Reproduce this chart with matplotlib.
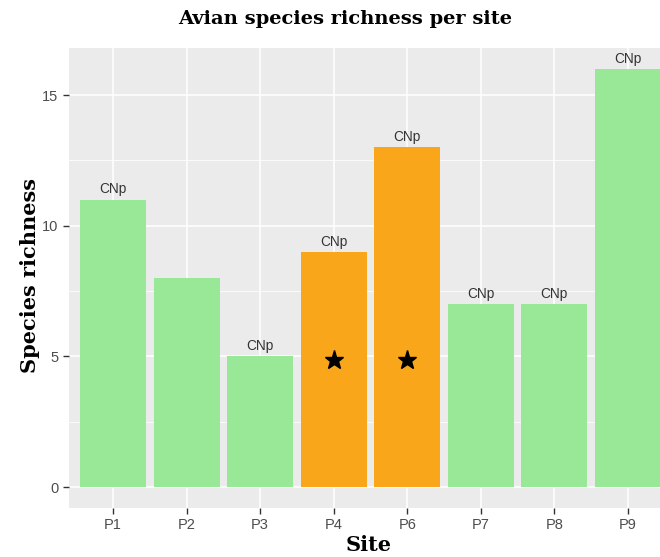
import matplotlib.pyplot as plt
from matplotlib.ticker import MultipleLocator

sites = ["P1", "P2", "P3", "P4", "P6", "P7", "P8", "P9"]
richness = [11, 8, 5, 9, 13, 7, 7, 16]
labels = ["CNp", "", "CNp", "CNp", "CNp", "CNp", "CNp", "CNp"]
starred = [False, False, False, True, True, False, False, False]
star_y = 4.85

green = "#98E898"
orange = "#FAA61A"

fig = plt.figure(figsize=(6.6, 5.57), dpi=100)
ax = fig.add_axes([0.1045, 0.088, 0.9136, 0.8258])
ax.set_facecolor("#EBEBEB")

x = range(len(sites))
colors = [orange if s else green for s in starred]
ax.bar(x, richness, width=0.9, color=colors, zorder=3)

for i, (v, lab) in enumerate(zip(richness, labels)):
    if lab:
        ax.text(i, v + 0.12, lab, ha="center", va="bottom", fontsize=9.8,
                color="#333333", family="Liberation Sans", zorder=4)
    if starred[i]:
        ax.plot(i, star_y, marker="*", markersize=14, color="black",
                linestyle="none", zorder=4)

ax.set_xlim(-0.6, len(sites) - 0.4)
ax.set_ylim(-0.8, 16.8)
ax.set_xticks(list(x))
ax.set_xticklabels(sites)
ax.yaxis.set_major_locator(MultipleLocator(5))
ax.yaxis.set_minor_locator(MultipleLocator(2.5))
ax.grid(True, which="major", color="white", linewidth=1.1, zorder=0)
ax.grid(True, which="minor", axis="y", color="white", linewidth=0.55, zorder=0)
ax.tick_params(which="major", length=4, color="#333333", labelcolor="#4D4D4D",
               labelsize=10.5, width=1)
ax.tick_params(which="minor", length=0)
for lbl in ax.get_xticklabels() + ax.get_yticklabels():
    lbl.set_family("Liberation Sans")
for s in ax.spines.values():
    s.set_visible(False)

fig.text(0.523, 0.965, "Avian species richness per site", ha="center", va="center",
         fontsize=14, fontweight="bold", family="DejaVu Serif")
fig.text(0.045, 0.505, "Species richness", ha="center", va="center", rotation=90,
         fontsize=15, fontweight="bold", family="DejaVu Serif")
fig.text(0.558, 0.021, "Site", ha="center", va="center",
         fontsize=15, fontweight="bold", family="DejaVu Serif")

fig.savefig("out.png", dpi=100)
